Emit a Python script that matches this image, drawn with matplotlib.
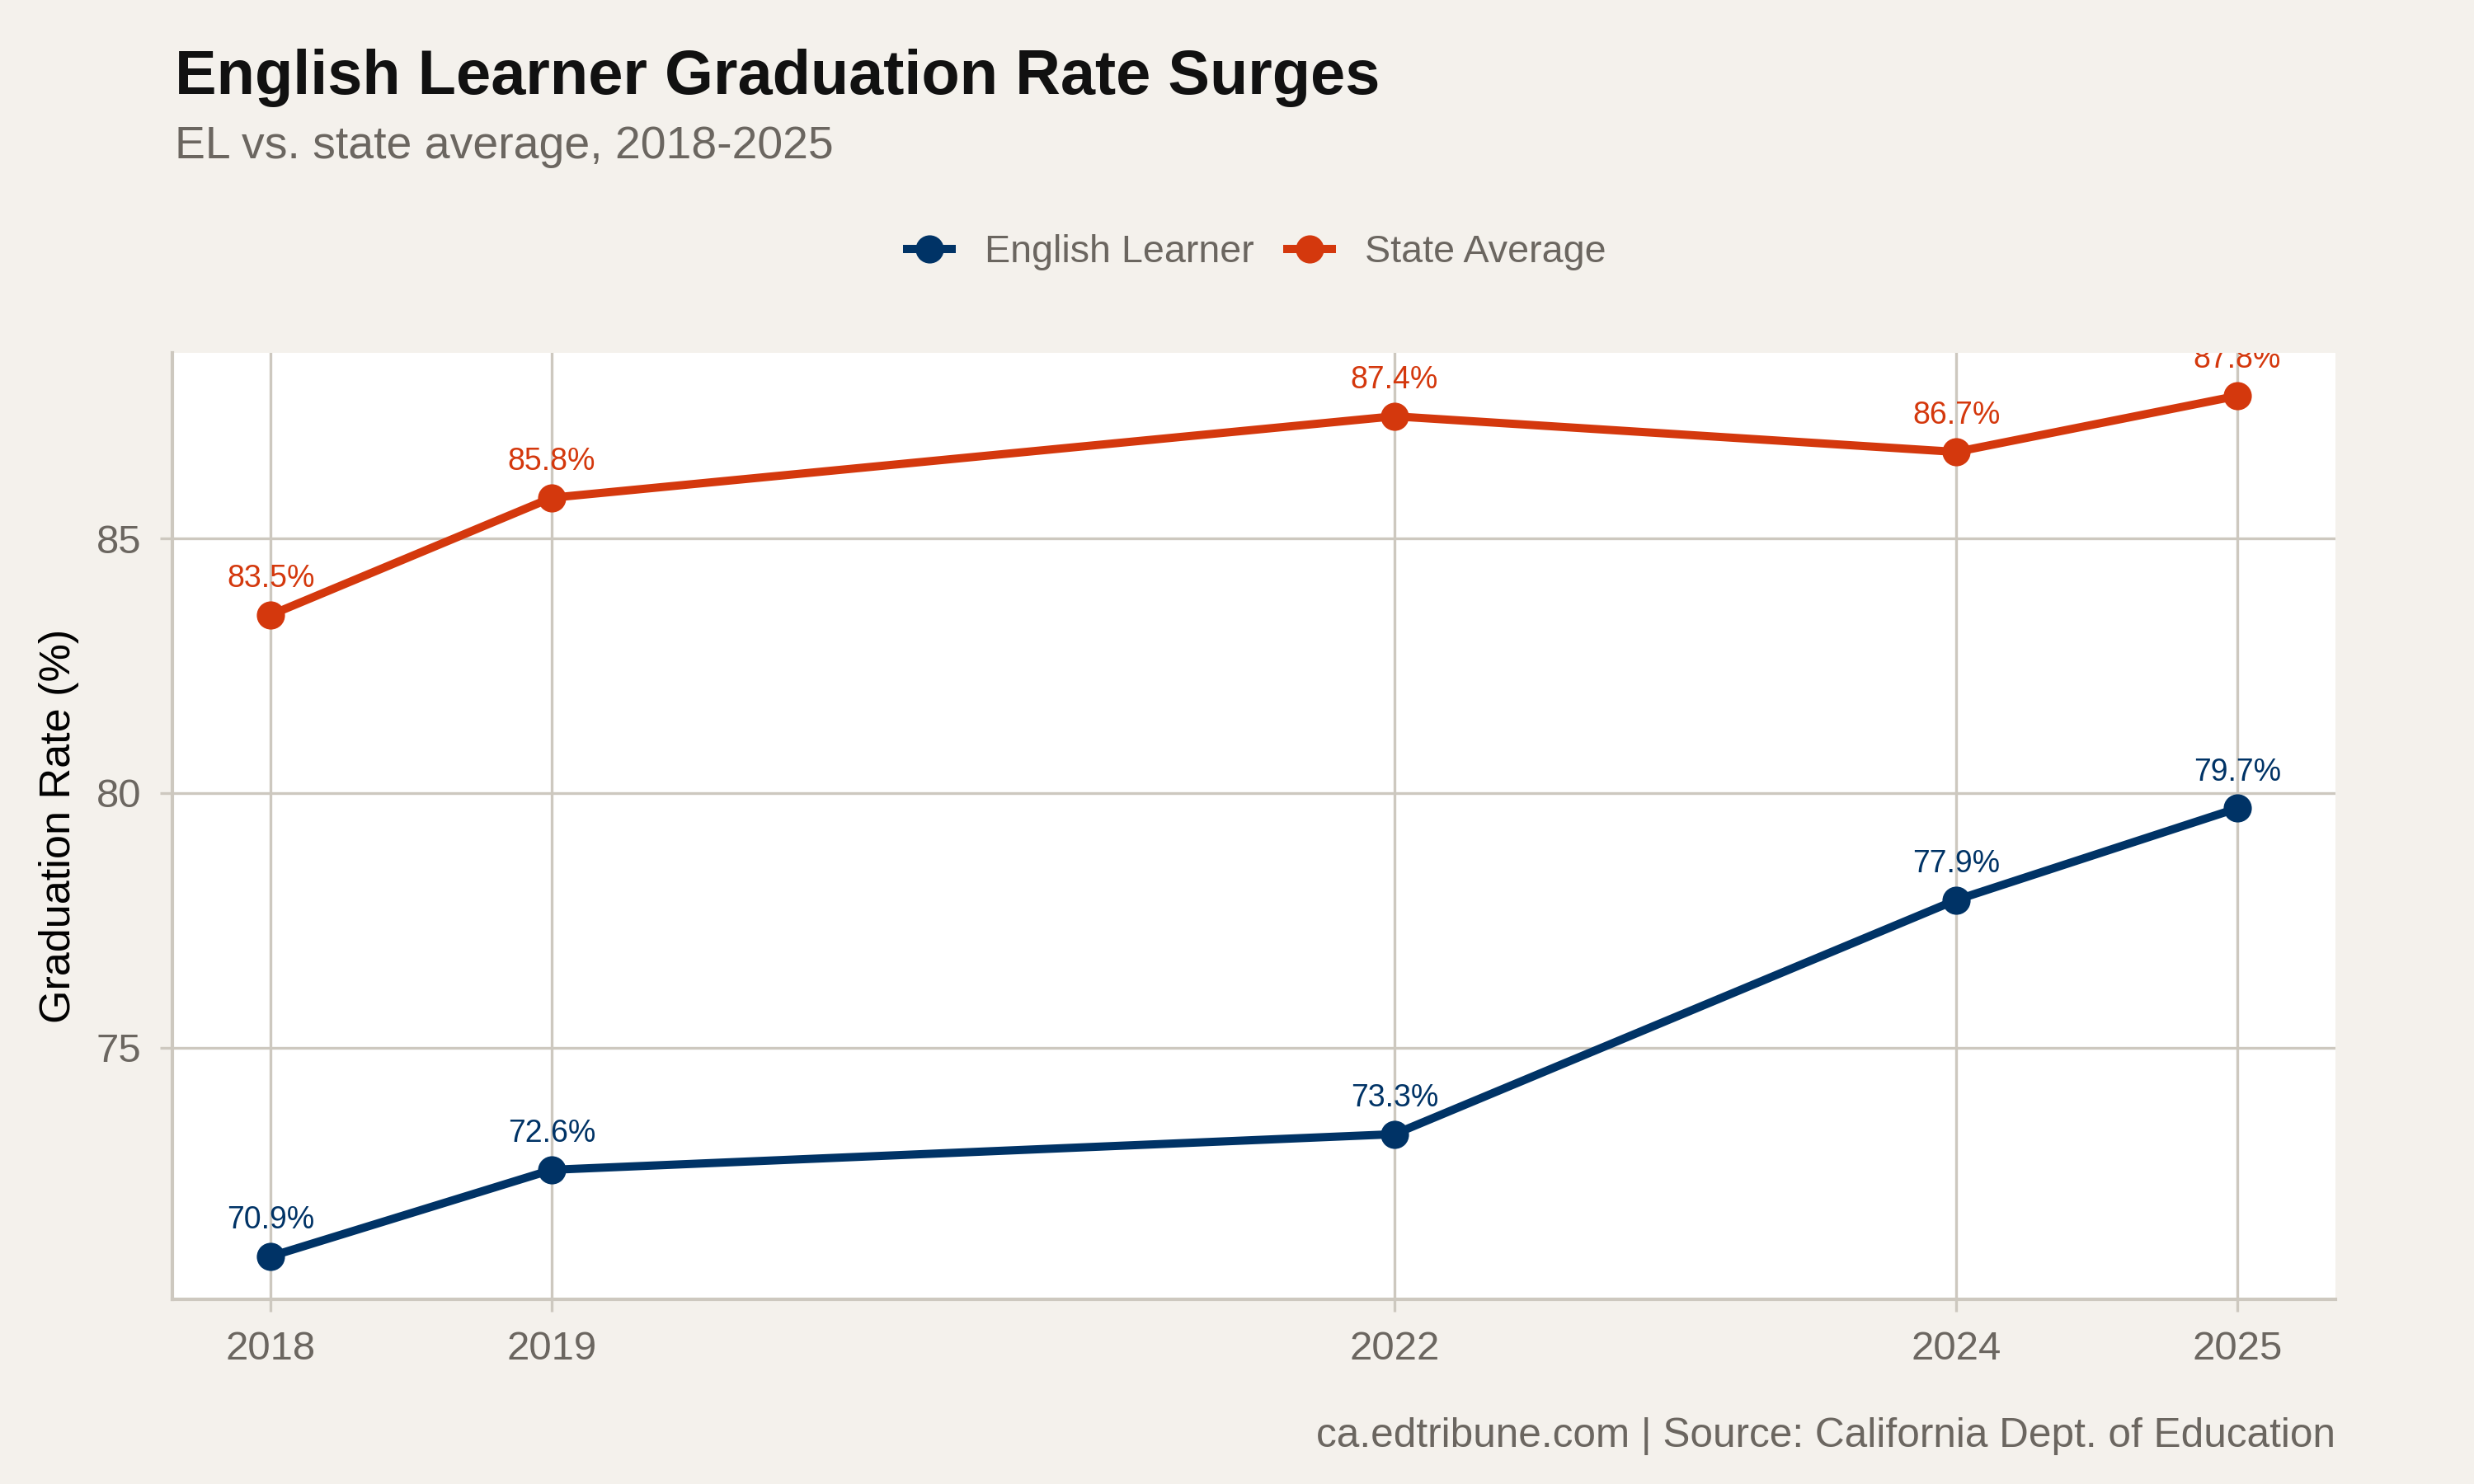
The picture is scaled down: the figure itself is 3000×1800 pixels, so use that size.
import matplotlib
matplotlib.use("Agg")
import matplotlib.pyplot as plt
from matplotlib.lines import Line2D

# ---- data ----
years = [2018, 2019, 2022, 2024, 2025]
el_rate = [70.9, 72.6, 73.3, 77.9, 79.7]
state_rate = [83.5, 85.8, 87.4, 86.7, 87.8]
series_names = ["English Learner", "State Average"]
y_ticks = [75, 80, 85]

BG = "#f4f1ec"
GRID = "#cdc8bf"
NAVY = "#003366"
ORANGE = "#d4380d"
GREY = "#6b6660"

plt.rcParams["font.family"] = ["Liberation Sans", "DejaVu Sans"]

fig = plt.figure(figsize=(10, 6), dpi=300, facecolor=BG)
ax = fig.add_axes([0.0697, 0.1244, 0.8743, 0.6378])
ax.set_facecolor("white")

for vals, color in [(el_rate, NAVY), (state_rate, ORANGE)]:
    ax.plot(years, vals, color=color, lw=2.4, marker="o", ms=7.2, zorder=3,
            solid_capstyle="butt")
    for x, y in zip(years, vals):
        ax.annotate(f"{y:.1f}%", (x, y), xytext=(0, 10.5),
                    textcoords="offset points", ha="center", va="center",
                    fontsize=9, color=color, clip_on=True, zorder=4)

# ggplot-style 5% expansion
lo = min(el_rate + state_rate)
hi = max(el_rate + state_rate)
pad = 0.05 * (hi - lo)
ax.set_ylim(lo - pad, hi + pad)
xpad = 0.05 * (years[-1] - years[0])
ax.set_xlim(years[0] - xpad, years[-1] + xpad)

ax.set_xticks(years)
ax.set_xticklabels([str(y) for y in years])
ax.set_yticks(y_ticks)
ax.grid(True, color=GRID, lw=0.8, zorder=0)
ax.set_axisbelow(True)
for side in ["top", "right"]:
    ax.spines[side].set_visible(False)
for side in ["left", "bottom"]:
    ax.spines[side].set_color(GRID)
    ax.spines[side].set_linewidth(1.0)
ax.tick_params(colors=GRID, labelcolor=GREY, labelsize=11.8, length=3.5,
               width=0.8, pad=5.5)
ax.set_ylabel("Graduation Rate (%)", fontsize=12.5, color="black", labelpad=5)

# titles
fig.text(0.0707, 0.9365, "English Learner Graduation Rate Surges",
         fontsize=18.2, fontweight="bold", color="#111111", va="baseline")
fig.text(0.0707, 0.8935, "EL vs. state average, 2018-2025",
         fontsize=13.3, color=GREY, va="baseline")

# legend
handles = [Line2D([], [], color=c, lw=2.4, marker="o", ms=7.2)
           for c in (NAVY, ORANGE)]
fig.legend(handles, series_names, loc="center", bbox_to_anchor=(0.508, 0.83),
           ncol=2, frameon=False, fontsize=11.2, labelcolor=GREY,
           handlelength=1.15, handletextpad=0.86, columnspacing=0.86)

fig.text(0.944, 0.025, "ca.edtribune.com | Source: California Dept. of Education",
         ha="right", va="baseline", fontsize=11.9, color=GREY)

fig.savefig("out.png", dpi=300, facecolor=BG)
